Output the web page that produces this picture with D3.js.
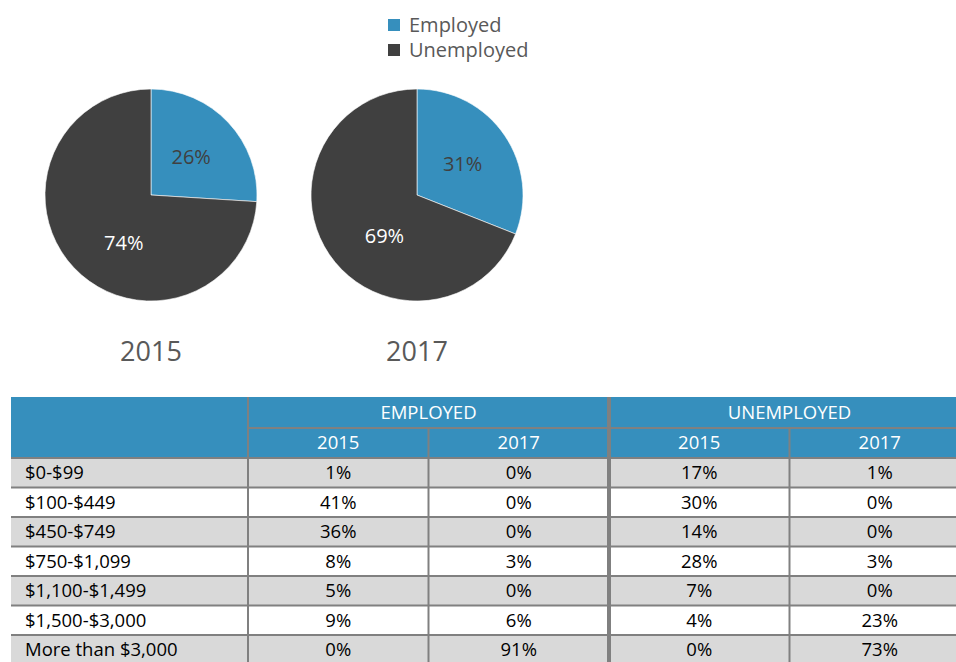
<!DOCTYPE html>
<html>
<head>
<meta charset="utf-8">
<script src="https://cdn.jsdelivr.net/npm/d3@7"></script>
<style>
  html, body { margin: 0; padding: 0; background: #fff; overflow: hidden; }
  svg { display: block; font-family: "Open Sans", "Noto Sans", sans-serif; }
</style>
</head>
<body>
<svg id="chart" width="956" height="662"></svg>
<script>
// Share of respondents employed vs unemployed, by survey year
const years = ["2015", "2017"];
const statuses = ["Employed", "Unemployed"];
const share2015 = [26, 74];
const share2017 = [31, 69];

// Monthly income bands, percent of each group
const incomeBands = ["$0-$99", "$100-$449", "$450-$749", "$750-$1,099", "$1,100-$1,499", "$1,500-$3,000", "More than $3,000"];
const employed2015 = [1, 41, 36, 8, 5, 9, 0];
const employed2017 = [0, 0, 0, 3, 0, 6, 91];
const unemployed2015 = [17, 30, 14, 28, 7, 4, 0];
const unemployed2017 = [1, 0, 0, 3, 0, 23, 73];

const BLUE = "#368fbd";
const DARK = "#404040";
const GRID = "#808080";

const svg = d3.select("#chart");
const color = d3.scaleOrdinal().domain(statuses).range([BLUE, DARK]);

// ---- Legend ----
const legend = svg.append("g").attr("transform", "translate(388,19)");
statuses.forEach((s, i) => {
  const g = legend.append("g").attr("transform", `translate(0,${i * 25})`);
  g.append("rect").attr("width", 12).attr("height", 12).attr("fill", color(s));
  g.append("text").attr("x", 21).attr("y", 12.5)
    .attr("font-size", 20).attr("fill", "#595959").text(s);
});

// ---- Pies ----
const pieLayout = d3.pie().sort(null).value(d => d);
const radius = 106;
const arc = d3.arc().innerRadius(0).outerRadius(radius);
const labelArc = d3.arc().innerRadius(radius * 0.52).outerRadius(radius * 0.52);
const xPie = d3.scalePoint().domain(years).range([151, 417]);
const pieData = { "2015": share2015, "2017": share2017 };

years.forEach(yr => {
  const g = svg.append("g").attr("transform", `translate(${xPie(yr)},195)`);
  const slices = pieLayout(pieData[yr]);
  g.selectAll("path").data(slices).join("path")
    .attr("d", arc)
    .attr("fill", (d, i) => color(statuses[i]))
    .attr("stroke", "#fff").attr("stroke-width", 0.6);
  // the large slice's label sits a little nearer the bottom of the pie
  g.selectAll("text.lbl").data(slices).join("text")
    .attr("class", "lbl")
    .attr("transform", (d, i) => {
      const [cx, cy] = labelArc.centroid(d);
      return i === 0 ? `translate(${cx},${cy})` : `translate(${cx + 13},${cy + 10})`;
    })
    .attr("text-anchor", "middle").attr("dy", "0.35em")
    .attr("font-size", 20)
    .attr("fill", (d, i) => i === 0 ? "#404040" : "#ffffff")
    .text(d => d.data + "%");
  svg.append("text")
    .attr("x", xPie(yr)).attr("y", 361)
    .attr("text-anchor", "middle").attr("font-size", 27)
    .attr("fill", "#595959").text(yr);
});

// ---- Table ----
const columns = [
  { group: "EMPLOYED", year: "2015", values: employed2015 },
  { group: "EMPLOYED", year: "2017", values: employed2017 },
  { group: "UNEMPLOYED", year: "2015", values: unemployed2015 },
  { group: "UNEMPLOYED", year: "2017", values: unemployed2017 }
];
// table runs past the right edge of the page
const tableLeft = 11, tableRight = 970, labelColRight = 248;
const xCol = d3.scaleBand().domain(d3.range(columns.length)).range([labelColRight, tableRight]);
const head1Top = 397, head1Bottom = 428, head2Bottom = 458, rowH = 29.5;
const yRow = d3.scaleBand().domain(incomeBands).range([head2Bottom, head2Bottom + rowH * incomeBands.length]);

const table = svg.append("g");
// Header background
table.append("rect").attr("x", tableLeft).attr("y", head1Top)
  .attr("width", tableRight - tableLeft).attr("height", head2Bottom - head1Top).attr("fill", BLUE);

// Body rows
table.selectAll("rect.row").data(incomeBands).join("rect")
  .attr("class", "row")
  .attr("x", tableLeft).attr("y", d => yRow(d))
  .attr("width", tableRight - tableLeft).attr("height", yRow.bandwidth())
  .attr("fill", (d, i) => i % 2 === 0 ? "#d9d9d9" : "#ffffff");

// Group headers
const groups = ["EMPLOYED", "UNEMPLOYED"];
groups.forEach((gName, gi) => {
  const x0 = xCol(gi * 2), x1 = xCol(gi * 2 + 1) + xCol.bandwidth();
  table.append("text").attr("x", (x0 + x1) / 2).attr("y", (head1Top + head1Bottom) / 2)
    .attr("dy", "0.35em").attr("text-anchor", "middle")
    .attr("font-size", 18.5).attr("fill", "#fff").text(gName);
});
// Year sub-headers
columns.forEach((c, ci) => {
  table.append("text").attr("x", xCol(ci) + xCol.bandwidth() / 2).attr("y", (head1Bottom + head2Bottom) / 2)
    .attr("dy", "0.35em").attr("text-anchor", "middle")
    .attr("font-size", 18.5).attr("fill", "#fff").text(c.year);
});

// Row labels
table.selectAll("text.band").data(incomeBands).join("text")
  .attr("class", "band")
  .attr("x", 25).attr("y", d => yRow(d) + yRow.bandwidth() / 2).attr("dy", "0.35em")
  .attr("font-size", 18.5).attr("fill", "#000").text(d => d);

// Cell values
columns.forEach((c, ci) => {
  table.selectAll(`text.v${ci}`).data(c.values).join("text")
    .attr("class", `v${ci}`)
    .attr("x", xCol(ci) + xCol.bandwidth() / 2)
    .attr("y", (d, i) => yRow(incomeBands[i]) + yRow.bandwidth() / 2).attr("dy", "0.35em")
    .attr("text-anchor", "middle").attr("font-size", 18.5).attr("fill", "#000")
    .text(d => d + "%");
});

// Grid lines
const bottom = yRow.range()[1];
table.append("line").attr("x1", labelColRight).attr("x2", tableRight)
  .attr("y1", head1Bottom).attr("y2", head1Bottom).attr("stroke", GRID).attr("stroke-width", 2);
incomeBands.forEach(b => {
  table.append("line").attr("x1", tableLeft).attr("x2", tableRight)
    .attr("y1", yRow(b)).attr("y2", yRow(b)).attr("stroke", GRID).attr("stroke-width", 2);
});
table.append("line").attr("x1", tableLeft).attr("x2", tableRight)
  .attr("y1", bottom).attr("y2", bottom).attr("stroke", GRID).attr("stroke-width", 2);
table.append("line").attr("x1", labelColRight).attr("x2", labelColRight)
  .attr("y1", head1Top).attr("y2", bottom).attr("stroke", GRID).attr("stroke-width", 2);
[1, 3].forEach(ci => {
  table.append("line").attr("x1", xCol(ci)).attr("x2", xCol(ci))
    .attr("y1", head1Bottom).attr("y2", bottom).attr("stroke", GRID).attr("stroke-width", 2);
});
table.append("line").attr("x1", xCol(2)).attr("x2", xCol(2))
  .attr("y1", head1Top).attr("y2", bottom).attr("stroke", GRID).attr("stroke-width", 4);
</script>
</body>
</html>
